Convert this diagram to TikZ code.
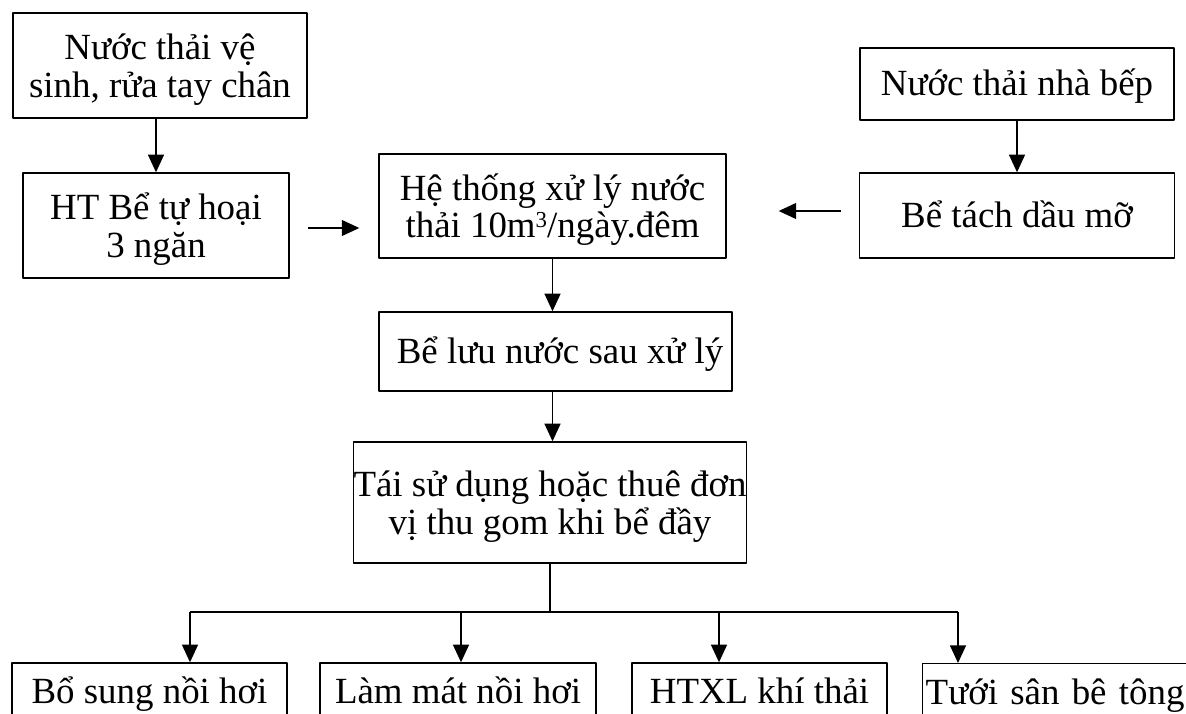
\documentclass[tikz,border=0pt]{standalone}
\usepackage{fontspec}
\setmainfont{Liberation Serif}
\usetikzlibrary{arrows.meta,calc}
\newcommand \mydrop[3]
{
\coordinate (#1) at (#2,612);
\draw[arr] (#1)--(#1 |- #3.north);
}

\begin{document}
\begin{tikzpicture}[x=0.02cm, y=-0.02cm, line join=round,
  bx/.style={draw, line width=0.8pt, inner sep=0pt, align=center, font=\fontsize{21}{21.5}\selectfont},
  onebx/.style={bx, text height=18pt, text depth=4.5pt},
  twobx/.style={bx, text height=40.8pt, text depth=4.5pt},
  lowbx/.style={onebx, minimum height=1.16cm},
  arr/.style={-{Triangle[length=10pt,width=9pt]}, line width=1pt}]
\clip (0,0) rectangle (1186,713);
\node[twobx, minimum width=5.88cm, minimum height=2.10cm] (wc)   at (160,65.5)  {Nước thải vệ\\sinh, rửa tay chân};
\node[twobx, minimum width=5.32cm, minimum height=2.10cm] (septic) at (156,225.5) {HT Bể tự hoại\\3 ngăn};
\node[twobx, minimum width=6.94cm, minimum height=2.08cm] (xl)   at (552.5,206) {Hệ thống xử lý nước\\thải 10m\raisebox{0.62ex}{\fontsize{13}{13}\selectfont 3}/ngày.đêm};
\node[onebx, minimum width=6.28cm, minimum height=1.44cm] (bep)  at (1017,84)   {Nước thải nhà bếp};
\node[onebx, minimum width=6.30cm, minimum height=1.70cm] (dau)  at (1017,215.5) {Bể tách dầu mỡ};
\node[onebx, minimum width=7.06cm, minimum height=1.58cm] (luu)  at (555.5,351.5) {\ Bể lưu nước sau xử lý};
\node[twobx, minimum width=7.76cm, minimum height=2.42cm] (taisd) at (550,502.5) {Tái sử dụng hoặc thuê đơn\\vị thu gom khi bể đầy};
\node[lowbx, minimum width=5.50cm] (noihoi) at (149.5,692) {Bổ sung nồi hơi};
\node[lowbx, minimum width=5.52cm] (lammat) at (458,692)   {Làm mát nồi hơi};
\node[lowbx, minimum width=5.10cm] (khithai) at (759.5,692) {HTXL khí thải};
\node[lowbx, anchor=north west, minimum width=6cm, inner xsep=0.06cm, text width=5.88cm, align=left] (tuoi) at (922,663) {Tưới sân bê tông};
\coordinate (rowB) at (0,228);
\coordinate (rowE) at (0,211);
\draw[arr] (wc.south -| septic.north)--(septic.north);
\draw[arr] (bep.south)--(dau.north);
\draw[arr, shorten <=0.36cm, shorten >=0.38cm] (septic.east |- rowB)--(xl.west |- rowB);
\draw[arr, shorten <=0.36cm, shorten >=1.04cm] (dau.west |- rowE)--(xl.east |- rowE);
\draw[arr] (xl.south)--(xl.south |- luu.north);
\draw[arr] (xl.south |- luu.south)--(xl.south |- taisd.north);
\coordinate (bus) at (taisd.south |- 0,612);
\draw[line width=1pt] (taisd.south)--(bus);
\mydrop{d1}{190}{noihoi}
\mydrop{d2}{461}{lammat}
\mydrop{d3}{719}{khithai}
\mydrop{d4}{958}{tuoi}
\draw[line width=1pt] (d1)--(d4);
\end{tikzpicture}
\end{document}
